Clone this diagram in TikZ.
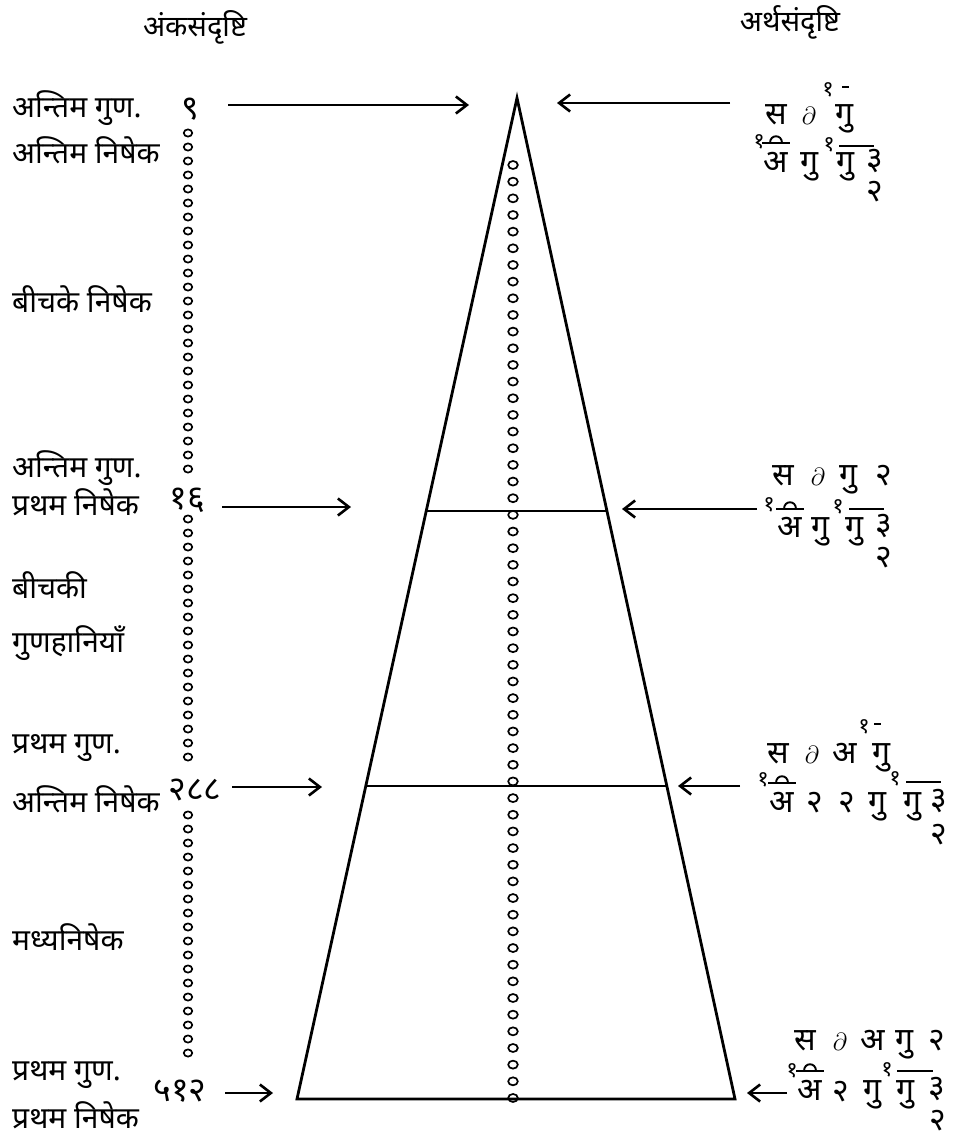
\documentclass[tikz,border=0pt]{standalone}
\usepackage{fontspec}
\newfontfamily\dev[Script=Devanagari]{Noto Sans}
\usetikzlibrary{arrows.meta}
\tikzset{
 lbl/.style={font=\dev\fontsize{30}{34}\selectfont, anchor=base west, inner sep=0pt},
 head/.style={font=\dev\fontsize{29}{34}\selectfont, anchor=base, inner sep=0pt},
 num/.style={font=\dev\fontsize{34}{38}\selectfont, anchor=center, inner sep=0pt},
 fm/.style={font=\dev\fontsize{32}{36}\selectfont, anchor=base, inner sep=0pt},
 fmd/.style={font=\fontsize{30}{34}\selectfont, anchor=base, inner sep=0pt},
 fn/.style={font=\dev\fontsize{32}{36}\selectfont, anchor=center, inner sep=0pt},
 sup/.style={font=\dev\fontsize{22}{26}\selectfont, anchor=center, inner sep=0pt},
 arr/.style={line width=2.6pt, -{Straight Barb[length=11pt,width=17pt]}},
 edgeline/.style={line width=2.8pt, line join=miter},
 dot/.style={line width=1.7pt},
 bar/.style={line width=1.9pt},
}
\newcommand{\hatbar}[3]{% x, y, half width
  \draw[bar] (#1-#3,#2) -- (#1+#3,#2);
  \draw[bar] (#1-6,#2) .. controls (#1-6,#2-9) and (#1+6,#2-9) .. (#1+6,#2);
}
\begin{document}
\begin{tikzpicture}[x=1pt,y=-1pt]
\useasboundingbox (0,0) rectangle (956,1140);

% headings
\node[head] (hl) at (195,37) {अंकसंदृष्टि};
\node[head] (hr) at (790,32) {अर्थसंदृष्टि};

% left labels
\node[lbl] (L1) at (12,117) {अन्तिम गुण.};
\node[lbl] (L2) at (12,163) {अन्तिम निषेक};
\node[lbl] (L3) at (12,312) {बीचके निषेक};
\node[lbl] (L4) at (12,477) {अन्तिम गुण.};
\node[lbl] (L5) at (12,515) {प्रथम निषेक};
\node[lbl] (L6) at (12,598) {बीचकी};
\node[lbl] (L7) at (12,652) {गुणहानियाँ};
\node[lbl] (L8) at (12,753) {प्रथम गुण.};
\node[lbl] (L9) at (12,812) {अन्तिम निषेक};
\node[lbl] (L10) at (12,950) {मध्यनिषेक};
\node[lbl] (L11) at (12,1080) {प्रथम गुण.};
\node[lbl] (L12) at (12,1128) {प्रथम निषेक};

% numbers
\node[num] (n1) at (190,109) {९};
\node[num] (n2) at (187,500) {१६};
\node[num] (n3) at (195,790) {२८८};
\node[num] (n4) at (180,1091) {५१२};

% left chain of circles
\foreach \i in {0,...,24} { \draw[dot] (188,133+\i*14) ellipse (4.2pt and 3.6pt); }
\foreach \i in {0,...,17} { \draw[dot] (188,519+\i*14) ellipse (4.2pt and 3.6pt); }
\foreach \i in {0,...,17} { \draw[dot] (188,815+\i*14) ellipse (4.2pt and 3.6pt); }

% triangle
\coordinate (apex) at (517,98);
\coordinate (bl) at (297,1099);
\coordinate (br) at (735,1099);
\coordinate (l2) at (426,511);
\coordinate (r2) at (607,511);
\coordinate (l3) at (366,786);
\coordinate (r3) at (667,786);
\draw[edgeline] (bl) -- (apex) -- (br) -- cycle;
\draw[edgeline] (l2) -- (r2);
\draw[edgeline] (l3) -- (r3);

% middle chain
\foreach \i in {0,...,56} { \draw[dot] (513,165+\i*16.66) ellipse (4.8pt and 4pt); }

% arrows
\coordinate (a1s) at (228,105); \coordinate (a1t) at (469,105);
\coordinate (b1s) at (730,103); \coordinate (b1t) at (557,103);
\coordinate (a2s) at (222,507); \coordinate (a2t) at (351,507);
\coordinate (b2s) at (757,509); \coordinate (b2t) at (622,509);
\coordinate (a3s) at (232,787); \coordinate (a3t) at (322,787);
\coordinate (b3s) at (740,786); \coordinate (b3t) at (678,786);
\coordinate (a4s) at (225,1093); \coordinate (a4t) at (273,1093);
\coordinate (b4s) at (787,1093); \coordinate (b4t) at (747,1093);
\foreach \p in {a1,b1,a2,b2,a3,b3,a4,b4} { \draw[arr] (\p s) -- (\p t); }

% formula 1
\node[fm] (f1a) at (776,124) {स};
\node[fmd] (f1b) at (809,124) {$\partial$};
\node[fm] (f1c) at (844,124) {गु};
\node[sup] (f1s) at (828,90) {१};
\draw[bar] (842,87) -- (849,87);
\node[fm] (f1d) at (776,172) {अ};
\hatbar{776}{143}{14}
\node[sup] (f1e) at (759,142) {१};
\node[fm] (f1f) at (809,172) {गु};
\node[sup] (f1g) at (829,145) {१};
\node[fm] (f1h) at (845,172) {गु};
\draw[bar] (839,146) -- (874,146);
\node[fn] (f1i) at (875,161) {३};
\node[fn] (f1j) at (875,192) {२};

% formula 2
\node[fm] (f2a) at (783,485) {स};
\node[fmd] (f2b) at (818,485) {$\partial$};
\node[fm] (f2c) at (848,485) {गु};
\node[fn] (f2d) at (884,476) {२};
\node[sup] (f2s) at (769,505) {१};
\node[fm] (f2e) at (790,537) {अ};
\hatbar{790}{509}{14}
\node[fm] (f2f) at (820,537) {गु};
\node[sup] (f2g) at (838,507) {१};
\node[fm] (f2h) at (854,537) {गु};
\draw[bar] (849,509) -- (884,509);
\node[fn] (f2i) at (884,526) {३};
\node[fn] (f2j) at (884,558) {२};

% formula 3
\node[fm] (f3a) at (778,763) {स};
\node[fmd] (f3b) at (812,763) {$\partial$};
\node[fm] (f3c) at (845,763) {अ};
\node[fm] (f3d) at (881,763) {गु};
\node[sup] (f3s) at (864,727) {१};
\draw[bar] (874,724) -- (881,724);
\node[sup] (f3t) at (763,780) {१};
\node[fm] (f3e) at (782,812) {अ};
\hatbar{782}{783}{14}
\node[fn] (f3f) at (815,803) {२};
\node[fn] (f3g) at (847,803) {२};
\node[fm] (f3h) at (877,812) {गु};
\node[sup] (f3i) at (895,779) {१};
\node[fm] (f3j) at (912,812) {गु};
\draw[bar] (906,782) -- (941,782);
\node[fn] (f3k) at (939,801) {३};
\node[fn] (f3l) at (939,835) {२};

% formula 4
\node[fm] (f4a) at (805,1050) {स};
\node[fmd] (f4b) at (840,1050) {$\partial$};
\node[fm] (f4c) at (873,1050) {अ};
\node[fm] (f4d) at (904,1050) {गु};
\node[fn] (f4e) at (937,1041) {२};
\node[sup] (f4s) at (792,1071) {१};
\node[fm] (f4f) at (810,1100) {अ};
\hatbar{810}{1071}{14}
\node[fn] (f4g) at (841,1092) {२};
\node[fm] (f4h) at (872,1100) {गु};
\node[sup] (f4i) at (887,1070) {१};
\node[fm] (f4j) at (905,1100) {गु};
\draw[bar] (897,1071) -- (933,1071);
\node[fn] (f4k) at (937,1089) {३};
\node[fn] (f4l) at (938,1121) {२};
\end{tikzpicture}
\end{document}
